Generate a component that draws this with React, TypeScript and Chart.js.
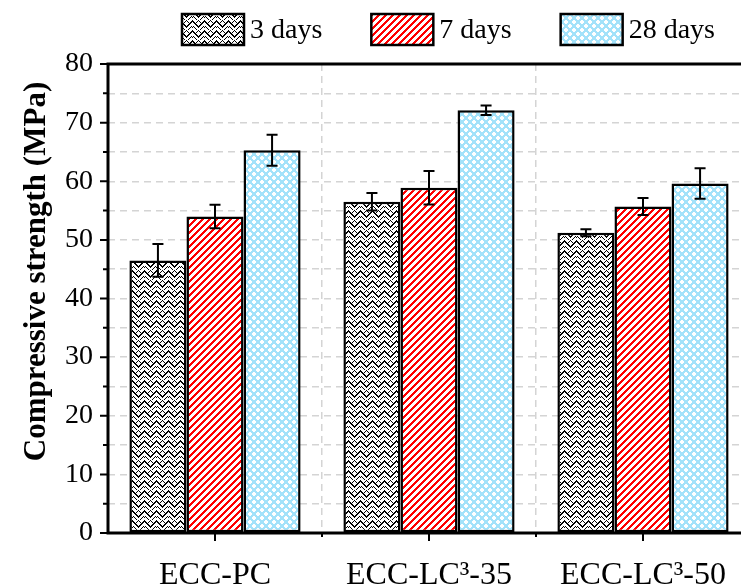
import React, { useEffect, useRef } from 'react';
import { Chart, registerables } from 'chart.js';
Chart.register(...registerables);

const categories = ['ECC-PC', 'ECC-LC³-35', 'ECC-LC³-50'];
const seriesLabels = ['3 days', '7 days', '28 days'];
const days3 = [46.5, 56.5, 51.2];
const days7 = [54.0, 58.9, 55.7];
const days28 = [65.3, 72.1, 59.6];
const err3 = [2.8, 1.5, 0.6];
const err7 = [2.0, 2.85, 1.45];
const err28 = [2.65, 0.8, 2.6];
const yMin = 0;
const yMax = 80;
const yMajorStep = 10;
const yMinorStep = 5;
const yTitle = 'Compressive strength (MPa)';

const FONT = '"Liberation Serif", "Times New Roman", serif';

function tileFrom(rows: string[], on: [number, number, number], off: [number, number, number]) {
  const h = rows.length;
  const w = rows[0].length;
  const c = document.createElement('canvas');
  c.width = w;
  c.height = h;
  const ctx = c.getContext('2d')!;
  const img = ctx.createImageData(w, h);
  for (let y = 0; y < h; y++) {
    for (let x = 0; x < w; x++) {
      const col = rows[y][x] === 'X' ? on : off;
      const k = (y * w + x) * 4;
      img.data[k] = col[0];
      img.data[k + 1] = col[1];
      img.data[k + 2] = col[2];
      img.data[k + 3] = 255;
    }
  }
  ctx.putImageData(img, 0, 0);
  return ctx.createPattern(c, 'repeat')!;
}

function zigPattern() {
  const rows = [
    'X.....X.....',
    'XX...X.X...X',
    '.XX.X...X.XX',
    '..XX.....XX.',
    '...XX...XX..',
    '....XX.XX...',
    '.X...XXX...X',
    'X.X...X...X.',
    '...X.....X..',
    '....X...X...',
  ];
  return tileFrom(rows, [0, 0, 0], [255, 255, 255]);
}

function stripePattern() {
  const w = 7, h = 7;
  const rows: string[] = [];
  for (let y = 0; y < h; y++) {
    let r = '';
    for (let x = 0; x < w; x++) r += (x + y) % 7 < 3 ? 'X' : '.';
    rows.push(r);
  }
  return tileFrom(rows, [255, 0, 0], [255, 255, 255]);
}

function dotPattern() {
  const rows = [
    '.XX.....',
    'XXXX....',
    'XXXX....',
    '.XX.....',
    '.....XX.',
    '....XXXX',
    '....XXXX',
    '.....XX.',
  ];
  return tileFrom(rows, [255, 255, 255], [163, 226, 250]);
}

const errors = [err3, err7, err28];

const customPlugin = {
  id: 'customDecor',
  afterDatasetsDraw(chart: any) {
    const ctx: CanvasRenderingContext2D = chart.ctx;
    const { left, right, top, bottom } = chart.chartArea;
    const ys = chart.scales.y;
    const xs = chart.scales.x;
    ctx.save();
    ctx.strokeStyle = '#000';
    ctx.lineWidth = 2;
    chart.data.datasets.forEach((ds: any, di: number) => {
      const meta = chart.getDatasetMeta(di);
      meta.data.forEach((bar: any, i: number) => {
        const v = ds.data[i];
        const e = errors[di][i];
        const yt = ys.getPixelForValue(v + e);
        const yb = ys.getPixelForValue(v - e);
        const cw = 5.5;
        ctx.beginPath();
        ctx.moveTo(bar.x, yt);
        ctx.lineTo(bar.x, yb);
        ctx.moveTo(bar.x - cw, yt);
        ctx.lineTo(bar.x + cw, yt);
        ctx.moveTo(bar.x - cw, yb);
        ctx.lineTo(bar.x + cw, yb);
        ctx.stroke();
      });
    });
    ctx.lineWidth = 3;
    ctx.strokeRect(left, top, right - left, bottom - top);
    ctx.lineWidth = 2;
    ctx.beginPath();
    for (let v = yMin; v <= yMax; v += yMinorStep) {
      const y = ys.getPixelForValue(v);
      const len = v % yMajorStep === 0 ? 8 : 5;
      ctx.moveTo(left, y);
      ctx.lineTo(left - len, y);
    }
    const n = chart.data.labels.length;
    for (let i = 0; i < n; i++) {
      const x = xs.getPixelForValue(i);
      ctx.moveTo(x, bottom);
      ctx.lineTo(x, bottom + 8);
    }
    for (let i = 1; i < n; i++) {
      const x = (xs.getPixelForValue(i - 1) + xs.getPixelForValue(i)) / 2;
      ctx.moveTo(x, bottom);
      ctx.lineTo(x, bottom + 4);
    }
    ctx.stroke();
    ctx.restore();
  },
  afterDraw(chart: any) {
    const ctx: CanvasRenderingContext2D = chart.ctx;
    ctx.save();
    const { top, bottom } = chart.chartArea;
    ctx.font = 'bold 31px ' + FONT;
    ctx.fillStyle = '#000';
    ctx.textAlign = 'center';
    ctx.textBaseline = 'middle';
    ctx.translate(37, (top + bottom) / 2 - 27);
    ctx.rotate(-Math.PI / 2);
    ctx.fillText(yTitle, 0, 0);
    ctx.restore();

    ctx.save();
    ctx.font = '28px ' + FONT;
    ctx.textBaseline = 'middle';
    ctx.textAlign = 'left';
    let x = 182;
    const y = 14;
    const bw = 62;
    const bh = 31;
    chart.data.datasets.forEach((ds: any) => {
      ctx.fillStyle = ds.backgroundColor;
      ctx.fillRect(x, y, bw, bh);
      ctx.strokeStyle = '#000';
      ctx.lineWidth = 2.5;
      ctx.strokeRect(x, y, bw, bh);
      ctx.fillStyle = '#000';
      const tx = x + bw + 6;
      ctx.fillText(ds.label, tx, y + bh / 2 + 1);
      x = tx + ctx.measureText(ds.label).width + 49;
    });
    ctx.restore();
  },
};

export default function App() {
  const ref = useRef<HTMLCanvasElement>(null);
  useEffect(() => {
    const canvas = ref.current!;
    const patterns = [zigPattern(), stripePattern(), dotPattern()];
    const values = [days3, days7, days28];
    const chart = new Chart(canvas, {
      type: 'bar',
      data: {
        labels: categories,
        datasets: seriesLabels.map((label, i) => ({
          label,
          data: values[i],
          backgroundColor: patterns[i] as any,
          borderColor: '#000',
          borderWidth: 2.5,
          borderSkipped: false,
          categoryPercentage: 0.8,
          barPercentage: 1.0,
        })),
      },
      options: {
        responsive: false,
        animation: false,
        devicePixelRatio: 1,
        layout: { padding: { top: 64, right: 10, bottom: 0, left: 0 } },
        plugins: {
          legend: { display: false },
          tooltip: { enabled: false },
        },
        scales: {
          x: {
            afterFit: (s: any) => {
              s.height = 54;
            },
            grid: {
              offset: true,
              color: '#d4d4d4',
              lineWidth: 1.5,
              drawTicks: false,
            },
            border: { display: false, dash: [7, 5] },
            ticks: {
              color: '#000',
              font: { family: FONT, size: 32 },
              padding: 23,
              maxRotation: 0,
              autoSkip: false,
            },
          },
          y: {
            min: yMin,
            max: yMax,
            afterFit: (s: any) => {
              s.width = 108;
            },
            grid: {
              color: '#d4d4d4',
              lineWidth: 1.5,
              drawTicks: false,
            },
            border: { display: false, dash: [7, 5] },
            ticks: {
              stepSize: yMinorStep,
              autoSkip: false,
              color: '#000',
              font: { family: FONT, size: 28 },
              padding: 15,
              callback: (v: any) => (Number(v) % yMajorStep === 0 ? String(v) : ''),
            },
          },
        },
      },
      plugins: [customPlugin],
    });
    return () => chart.destroy();
  }, []);
  return (
    <div
      style={{
        position: 'fixed',
        left: 0,
        top: 0,
        width: 741,
        height: 587,
        overflow: 'hidden',
        background: '#fff',
      }}
    >
      <canvas ref={ref} width={760} height={587} style={{ display: 'block', width: 760, height: 587 }} />
    </div>
  );
}
